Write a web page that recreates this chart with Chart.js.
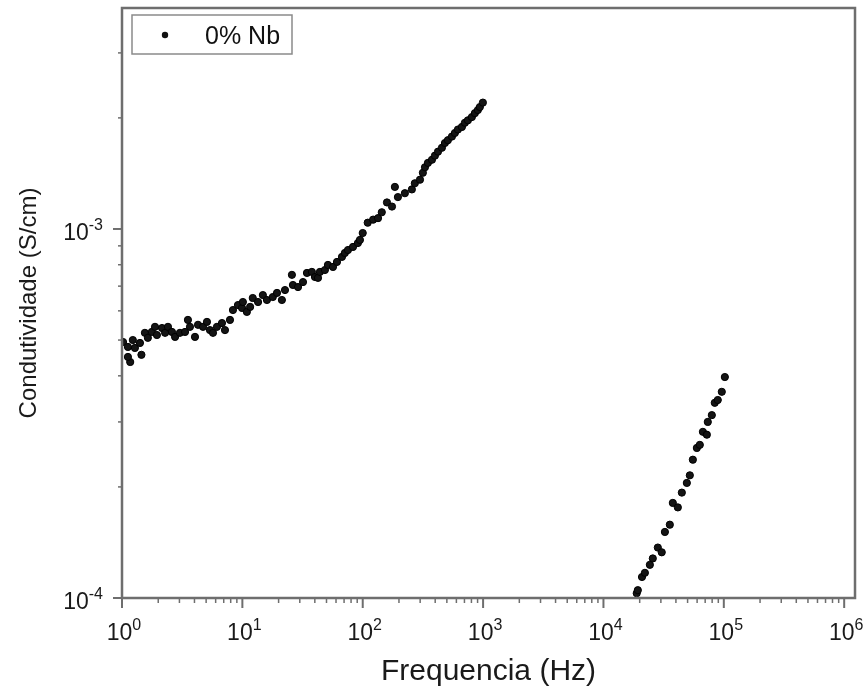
<!DOCTYPE html>
<html>
<head>
<meta charset="utf-8">
<script src="https://cdn.jsdelivr.net/npm/chart.js@4.4.1/dist/chart.umd.min.js"></script>
<style>
html, body { margin: 0; padding: 0; background: #fff; }
</style>
</head>
<body>
<canvas id="myChart" width="868" height="696"></canvas>
<script>
// dados (Hz, S/cm)
const frequencia = [
  1.02, 1.12, 1.17, 1.12, 1.23, 1.28, 1.41, 1.45, 1.55, 1.64, 1.77, 1.88, 1.95, 2.15, 2.28, 2.41,
  2.60, 2.76, 3.03, 3.34, 3.53, 3.67, 4.04, 4.28, 4.71, 5.08, 5.38, 5.70, 6.15, 6.77, 7.17, 7.89,
  8.35, 9.19, 9.93, 10.1, 10.9, 11.6, 12.2, 13.5, 14.8, 16.0, 17.9, 19.4, 21.3, 22.6, 25.8, 26.3,
  29.0, 31.9, 34.4, 37.8, 40.1, 42.5, 44.1, 48.5, 51.4, 56.6, 61.1, 67.2, 71.1, 75.4, 83.0, 91.2,
  94.8, 100, 110, 122, 134, 144, 159, 175, 185, 196, 224, 256, 271, 299, 316, 329,
  348, 376, 398, 422, 455, 482, 510, 551, 583, 618, 667, 706, 748, 807, 855, 905,
  940, 996,
  18900, 19300, 20900, 22100, 24300, 25700, 28300, 30500, 32400, 35600, 37700, 41500, 44800,
  49300, 52200, 55300, 59700, 63200, 67000, 72300, 73600, 79500, 84100, 89100, 96200, 102000
];
const condutividade = [
  4.94e-4, 4.79e-4, 4.36e-4, 4.50e-4, 5.00e-4, 4.76e-4, 4.91e-4, 4.56e-4, 5.23e-4, 5.07e-4, 5.26e-4, 5.43e-4, 5.16e-4, 5.39e-4, 5.23e-4, 5.43e-4,
  5.26e-4, 5.10e-4, 5.23e-4, 5.26e-4, 5.67e-4, 5.43e-4, 5.10e-4, 5.50e-4, 5.43e-4, 5.60e-4, 5.32e-4, 5.23e-4, 5.43e-4, 5.56e-4, 5.32e-4, 5.67e-4,
  6.03e-4, 6.22e-4, 6.11e-4, 6.34e-4, 5.96e-4, 6.15e-4, 6.50e-4, 6.34e-4, 6.62e-4, 6.42e-4, 6.54e-4, 6.71e-4, 6.42e-4, 6.83e-4, 7.51e-4, 7.05e-4,
  6.96e-4, 7.18e-4, 7.60e-4, 7.65e-4, 7.41e-4, 7.37e-4, 7.65e-4, 7.74e-4, 7.99e-4, 7.89e-4, 8.14e-4, 8.40e-4, 8.61e-4, 8.77e-4, 8.94e-4, 9.16e-4,
  9.34e-4, 9.75e-4, 1.04e-3, 1.06e-3, 1.07e-3, 1.11e-3, 1.18e-3, 1.15e-3, 1.30e-3, 1.22e-3, 1.25e-3, 1.28e-3, 1.33e-3, 1.36e-3, 1.42e-3, 1.47e-3,
  1.51e-3, 1.54e-3, 1.58e-3, 1.62e-3, 1.66e-3, 1.71e-3, 1.74e-3, 1.78e-3, 1.82e-3, 1.86e-3, 1.89e-3, 1.94e-3, 1.97e-3, 2.01e-3, 2.06e-3, 2.10e-3,
  2.14e-3, 2.20e-3,
  1.03e-4, 1.05e-4, 1.14e-4, 1.17e-4, 1.23e-4, 1.28e-4, 1.37e-4, 1.33e-4, 1.51e-4, 1.58e-4, 1.81e-4, 1.76e-4, 1.93e-4,
  2.05e-4, 2.15e-4, 2.37e-4, 2.55e-4, 2.60e-4, 2.82e-4, 2.77e-4, 3.00e-4, 3.13e-4, 3.38e-4, 3.44e-4, 3.62e-4, 3.97e-4
];
const serieLabel = '0% Nb';
const xExpoentes = [0, 1, 2, 3, 4, 5, 6];
const yExpoentes = [-4, -3];

const corEixo = '#6e6e6e';
const fonte = '"Liberation Sans", Arial, sans-serif';

// "10" com expoente sobrescrito
function potencia(ctx, e, px, base, align) {
  const exp = String(e);
  ctx.font = '23px ' + fonte;
  const w1 = ctx.measureText('10').width;
  ctx.font = '16px ' + fonte;
  const w2 = ctx.measureText(exp).width;
  let x0 = align === 'right' ? px - w1 - w2 : px - (w1 + w2) / 2;
  ctx.textAlign = 'left';
  ctx.textBaseline = 'alphabetic';
  ctx.font = '23px ' + fonte;
  ctx.fillText('10', x0, base);
  ctx.font = '16px ' + fonte;
  ctx.fillText(exp, x0 + w1, base - 10);
}

const eixos = {
  id: 'eixos',
  afterDraw(chart) {
    const { ctx, chartArea: a, scales: { x, y } } = chart;
    ctx.save();
    ctx.strokeStyle = corEixo;
    ctx.fillStyle = '#1a1a1a';

    // ticks x
    xExpoentes.forEach(e => {
      for (let m = 1; m <= 9; m++) {
        const v = m * Math.pow(10, e);
        if (v > x.max) break;
        const px = x.getPixelForValue(v);
        ctx.lineWidth = m === 1 ? 2 : 1.5;
        ctx.beginPath();
        ctx.moveTo(px, a.bottom);
        ctx.lineTo(px, a.bottom + (m === 1 ? 10 : 5));
        ctx.stroke();
      }
      potencia(ctx, e, x.getPixelForValue(Math.pow(10, e)) + 2, a.bottom + 42, 'center');
    });

    // ticks y
    yExpoentes.forEach(e => {
      for (let m = 1; m <= 9; m++) {
        const v = m * Math.pow(10, e);
        if (v > y.max) break;
        const py = y.getPixelForValue(v);
        ctx.lineWidth = m === 1 ? 2 : 1.5;
        ctx.beginPath();
        ctx.moveTo(a.left, py);
        ctx.lineTo(a.left - (m === 1 ? 9 : 4), py);
        ctx.stroke();
      }
      potencia(ctx, e, 103, y.getPixelForValue(Math.pow(10, e)) + 11, 'right');
    });

    // moldura
    ctx.lineWidth = 2.5;
    ctx.strokeRect(a.left, a.top, a.right - a.left, a.bottom - a.top);

    // legenda
    ctx.lineWidth = 1.5;
    ctx.strokeStyle = '#8a8a8a';
    ctx.strokeRect(132, 15, 160, 39);
    ctx.fillStyle = '#111';
    ctx.beginPath();
    ctx.arc(165, 35, 3.2, 0, Math.PI * 2);
    ctx.fill();
    ctx.font = '25px ' + fonte;
    ctx.textBaseline = 'alphabetic';
    ctx.textAlign = 'left';
    ctx.fillText(chart.data.datasets[0].label, 205, 44);
    ctx.restore();
  }
};

const pontos = frequencia.map((f, i) => ({ x: f, y: condutividade[i] }));

const ctx = document.getElementById('myChart').getContext('2d');
const myChart = new Chart(ctx, {
  type: 'scatter',
  data: {
    datasets: [
      {
        label: serieLabel,
        data: pontos,
        backgroundColor: '#141414',
        borderColor: '#000',
        borderWidth: 1,
        pointRadius: 3.6
      }
    ]
  },
  options: {
    responsive: false,
    animation: false,
    devicePixelRatio: 1,
    layout: { padding: { top: 8, right: 13, left: 0, bottom: 0 } },
    plugins: { legend: { display: false }, tooltip: { enabled: false } },
    scales: {
      x: {
        type: 'logarithmic',
        min: 1,
        max: 1.23e6,
        grid: { display: false },
        border: { display: false },
        ticks: { display: false },
        title: {
          display: true,
          text: 'Frequencia (Hz)',
          color: '#1a1a1a',
          font: { family: fonte, size: 30 },
          padding: { top: 0, bottom: 6 }
        },
        afterFit(s) { s.height = 98; }
      },
      y: {
        type: 'logarithmic',
        min: 1e-4,
        max: 3.97e-3,
        grid: { display: false },
        border: { display: false },
        ticks: { display: false },
        title: {
          display: true,
          text: 'Condutividade (S/cm)',
          color: '#1a1a1a',
          font: { family: fonte, size: 24 },
          padding: { top: 15, bottom: 0 }
        },
        afterFit(s) { s.width = 122; }
      }
    }
  },
  plugins: [eixos]
});
</script>
</body>
</html>
